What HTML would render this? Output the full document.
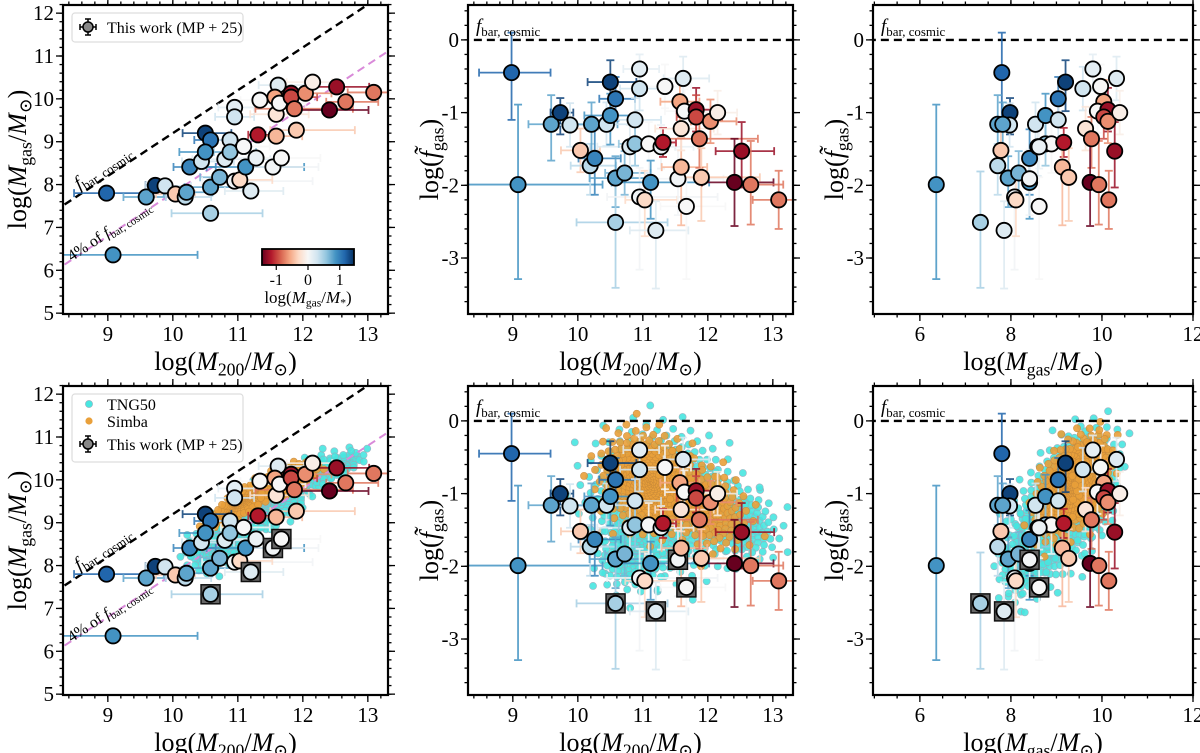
<!DOCTYPE html>
<html><head><meta charset="utf-8"><style>
html,body{margin:0;padding:0;background:#fff}
svg{display:block;font-family:"Liberation Serif","DejaVu Serif",serif}
</style></head><body>
<svg id="fig" width="1200" height="753" viewBox="0 0 1200 753" xmlns="http://www.w3.org/2000/svg"></svg>
<script>
// ---- observational data (This work, MP+25) ----
const m200 = [8.98,9.08,9.59,9.73,9.88,10.04,10.19,10.21,10.26,10.44,10.50,10.58,10.50,10.58,10.58,10.72,10.80,10.88,10.88,10.95,10.95,10.95,11.03,11.09,11.12,11.20,11.28,11.31,11.34,11.54,11.59,11.59,11.62,11.57,11.64,11.67,11.82,11.82,11.87,11.90,12.04,12.15,12.41,12.52,12.66,13.09];
const mgas = [7.80,6.36,7.71,7.98,7.97,7.78,7.71,7.82,8.41,8.54,9.20,9.04,8.76,7.94,7.33,8.17,8.59,9.04,8.76,9.80,9.58,8.08,8.11,8.89,8.41,7.85,8.62,9.16,9.97,8.41,9.13,9.64,10.32,10.04,9.90,8.62,10.13,10.04,9.77,9.27,10.13,10.39,9.74,10.28,9.93,10.15];
const fgas = [-0.45,-1.99,-1.16,-1.00,-1.17,-1.52,-1.73,-1.16,-1.63,-1.16,-0.58,-0.81,-1.04,-1.90,-2.51,-1.83,-1.47,-1.10,-1.43,-0.40,-0.67,-2.16,-2.20,-1.43,-1.96,-2.62,-1.47,-1.41,-0.64,-1.91,-1.75,-1.22,-0.53,-0.85,-0.98,-2.29,-0.96,-1.06,-1.36,-1.89,-1.12,-1.00,-1.96,-1.53,-1.99,-2.20];
const ratio = [1.2,0.9,0.8,1.4,0.3,-0.4,0.4,0.8,1.0,0.3,1.4,1.1,0.9,0.8,0.5,0.7,0.2,0.3,0.6,0.15,0.3,0.05,-0.3,0.0,0.9,0.2,0.1,-1.2,0.0,0.05,-0.5,-0.2,0.2,-0.6,0.0,0.0,-1.3,-1.0,-0.8,-0.4,-0.7,-0.1,-1.5,-1.3,-0.8,-0.8];
const xErrLo = [0.5,0.8,0.35,0.15,0.3,0.3,0.3,0.35,0.25,0.3,0.35,0.25,0.4,0.4,0.6,0.3,0.5,0.3,0.25,0.25,0.3,0.5,0.3,0.35,0.6,0.4,0.4,0.15,0.3,0.5,0.3,0.4,0.3,0.3,0.3,0.4,0.3,0.3,0.6,0.4,0.3,0.4,0.5,0.4,0.3,0.4];
const xErrHi = [0.6,1.3,0.3,0.2,0.4,0.3,0.4,0.4,0.4,0.5,0.4,0.3,0.4,0.5,0.8,0.4,0.7,0.4,0.4,0.3,0.3,1.2,0.5,0.4,0.9,0.5,0.5,0.2,0.4,0.7,0.4,0.5,0.4,0.3,0.4,0.6,0.3,0.4,0.9,0.9,0.4,0.3,0.6,0.5,0.5,0.4];
const fErrLo = [0.65,1.3,0.5,0.3,0.3,0.3,0.4,0.4,0.5,0.3,0.4,0.3,0.4,0.4,0.9,0.3,0.4,0.3,0.3,0.3,0.3,1.0,0.5,0.4,0.5,0.8,0.3,0.2,0.3,0.5,0.8,0.3,0.3,0.3,0.3,1.0,0.3,0.3,0.4,0.6,0.3,0.3,0.6,0.5,0.55,0.4];
const fErrHi = [0.55,1.1,0.4,0.2,0.3,0.3,0.3,0.3,0.4,0.3,0.3,0.3,0.3,0.3,0.7,0.3,0.3,0.3,0.3,0.2,0.3,0.4,0.4,0.3,0.3,0.4,0.3,0.2,0.3,0.4,0.4,0.3,0.3,0.3,0.3,0.4,0.3,0.3,0.3,0.4,0.3,0.3,0.6,0.4,0.6,0.4];
const boxed = [15,26,30,36];
// ---- simulation clouds (component centres/extents per panel) ----
const tngMhalo = {cx:[11.4,10.8,12.5], cy:[9.4,8.5,10.3], hx:[1.4,0.8,0.6], hy:[1.5,0.9,0.5], rho:[0.85,0.6,0.7], n:[600,160,120]};
const simbaMhalo = {cx:[11.2,11.8], cy:[9.6,10.0], hx:[0.9,0.6], hy:[0.95,0.5], rho:[0.9,0.7], n:[380,160]};
const tngFhalo = {cx:[11.3,10.9,12.5], cy:[-1.1,-1.8,-1.4], hx:[1.6,0.9,0.9], hy:[1.4,0.8,0.8], rho:[-0.1,0.2,-0.3], n:[600,160,140]};
const simbaFhalo = {cx:[11.1,12.0], cy:[-0.85,-1.2], hx:[1.1,1.0], hy:[1.0,0.9], rho:[-0.2,-0.3], n:[420,160]};
const tngFgas = {cx:[9.1,8.4,9.8], cy:[-1.2,-1.8,-1.0], hx:[1.6,0.9,0.8], hy:[1.5,0.9,0.9], rho:[0.55,0.4,0.3], n:[600,160,140]};
const simbaFgas = {cx:[9.3,9.8], cy:[-0.9,-0.8], hx:[1.1,0.6], hy:[1.0,0.8], rho:[0.5,0.3], n:[420,160]};
// tick labels
const massTicks = [9,10,11,12,13];
const gasTicksY = [5,6,7,8,9,10,11,12];
const fTicks = [0,-1,-2,-3];
const mgasTicksX = [6,8,10,12];
const cbarTicks = [-1,0,1];

const NS = "http://www.w3.org/2000/svg";
const svg = document.getElementById('fig');
function el(tag, attrs, parent){ const e=document.createElementNS(NS,tag); for(const k in attrs) e.setAttribute(k,attrs[k]); (parent||svg).appendChild(e); return e; }

const RdBu = ['#67001f','#b2182b','#d6604d','#f4a582','#fddbc7','#f7f7f7','#d1e5f0','#92c5de','#4393c3','#2166ac','#053061'];
function hex(h){return [parseInt(h.substr(1,2),16),parseInt(h.substr(3,2),16),parseInt(h.substr(5,2),16)];}
function cmap(v){ let t=(v+1.5)/3; t=Math.max(0,Math.min(1,t)); const p=t*10, i=Math.min(9,Math.floor(p)), f=p-i;
  const a=hex(RdBu[i]), b=hex(RdBu[i+1]); return 'rgb('+a.map((c,k)=>Math.round(c+(b[k]-c)*f)).join(',')+')'; }

function makeAxis(x0,y0,w,h,xd,yd){ return {x0,y0,w,h, sx:v=>x0+(v-xd[0])/(xd[1]-xd[0])*w, sy:v=>y0+h-(v-yd[0])/(yd[1]-yd[0])*h, xd, yd}; }
const rowY=[5,386], H=309;
const mxd=[8.31,13.31], gyd=[4.98,12.19], fyd=[-3.77,0.48], gxd=[4.97,12.0];

function clipFor(ax,id){ const cp=el('clipPath',{id}); el('rect',{x:ax.x0,y:ax.y0,width:ax.w,height:ax.h},cp); return 'url(#'+id+')'; }

function ticks(ax, xmaj, xmin, ymaj, ymin, xlabels, ylabels, name){
  const g=el('g',{});  
  const line=(x1,y1,x2,y2)=>el('line',{x1,y1,x2,y2,stroke:'#000','stroke-width':1.3},g);
  const bot=ax.y0+ax.h, rt=ax.x0+ax.w;
  xmin.forEach(v=>{const x=ax.sx(v); if(x<ax.x0-0.5||x>rt+0.5)return; line(x,bot,x,bot+3.5); line(x,ax.y0,x,ax.y0-3.5);});
  xmaj.forEach(v=>{const x=ax.sx(v); line(x,bot,x,bot+7); line(x,ax.y0,x,ax.y0-7);});
  ymin.forEach(v=>{const y=ax.sy(v); if(y<ax.y0-0.5||y>bot+0.5)return; line(ax.x0,y,ax.x0-3.5,y); line(rt,y,rt+3.5,y);});
  ymaj.forEach(v=>{const y=ax.sy(v); line(ax.x0,y,ax.x0-7,y); line(rt,y,rt+7,y);});
  xlabels.forEach(v=>{const t=el('text',{x:ax.sx(v),y:bot+27,'font-size':21,'text-anchor':'middle'},g); t.textContent=String(v);
     });
  ylabels.forEach(v=>{const t=el('text',{x:ax.x0-9,y:ax.sy(v)+7,'font-size':21,'text-anchor':'end'},g); t.textContent=String(v);
     });
}
function range(a,b,s){const r=[];for(let v=a;v<=b+1e-9;v+=s)r.push(Math.round(v*100)/100);return r;}

function richText(parent, x, y, parts, size, anchor, rot){
  const t=el('text',{x,y,'font-size':size,'text-anchor':anchor||'middle'},parent);
  if(rot) t.setAttribute('transform','rotate('+rot+' '+x+' '+y+')');
  parts.forEach(p=>{const s=el('tspan',{},t); s.textContent=p[0];
    if(p[1]==='i') s.setAttribute('font-style','italic');
    if(p[1]==='sub'){ s.setAttribute('font-size',size*0.68); s.setAttribute('dy',size*0.22);}
    if(p[1]==='up'){ s.setAttribute('dy',-size*0.22);} });
  return t;
}
const lblM200=[['log('],['M','i'],['200','sub'],['/','up'],['M','i'],['⊙','sub'],[')','up']];
const lblMgas=[['log('],['M','i'],['gas','sub'],['/','up'],['M','i'],['⊙','sub'],[')','up']];
const lblF=[['log('],['f̃','i'],['gas','sub'],[')','up']];

function cloud(ax, comp, color, edge, clip, name){
  const g=el('g',{'clip-path':clip});  
  const GA=Math.PI*(3-Math.sqrt(5)), norm=Math.sqrt(-2*Math.log(0.01));
  comp.cx.forEach((cx,k)=>{ const n=comp.n[k];
    for(let i=0;i<n;i++){ const tt=(i+0.5)/n; const r=Math.sqrt(-2*Math.log(1-tt*0.99))/norm, a=i*GA; const u=r*Math.cos(a), v=r*Math.sin(a);
      const x=cx+comp.hx[k]*u, y=comp.cy[k]+comp.hy[k]*(comp.rho[k]*u+Math.sqrt(1-comp.rho[k]*comp.rho[k])*v);
      const c=el('circle',{cx:ax.sx(x),cy:ax.sy(y),r:3.6,fill:color,stroke:edge,'stroke-width':0.6,opacity:0.9},g);
        } });
}

function obs(ax, xs, ys, opts, clip, name){
  const g=el('g',{'clip-path':clip});  
  xs.forEach((xv,i)=>{ const col=cmap(ratio[i]); const x=ax.sx(xv), y=ax.sy(ys[i]);
    const eg=el('g',{stroke:col,'stroke-width':1.8,opacity:0.85},g);
     
    if(opts.xerr){ const a=ax.sx(xv-xErrLo[i]), b=ax.sx(xv+xErrHi[i]);
      el('line',{x1:a,y1:y,x2:b,y2:y},eg); el('line',{x1:a,y1:y-4,x2:a,y2:y+4},eg); el('line',{x1:b,y1:y-4,x2:b,y2:y+4},eg);}
    if(opts.yerr){ const a=ax.sy(ys[i]+fErrHi[i]), b=ax.sy(ys[i]-fErrLo[i]);
      el('line',{x1:x,y1:a,x2:x,y2:b},eg); el('line',{x1:x-4,y1:a,x2:x+4,y2:a},eg); el('line',{x1:x-4,y1:b,x2:x+4,y2:b},eg);}
  });
  xs.forEach((xv,i)=>{ const x=ax.sx(xv), y=ax.sy(ys[i]);
    if(opts.boxes && boxed.indexOf(i+1)>=0){ const b=el('rect',{x:x-9.5,y:y-9.5,width:19,height:19,fill:'#666',stroke:'#111','stroke-width':1.5},g);
        }
    const c=el('circle',{cx:x,cy:y,r:7.6,fill:cmap(ratio[i]),stroke:'#000','stroke-width':1.8},g);
      });
}

function frame(ax,name){ const r=el('rect',{x:ax.x0,y:ax.y0,width:ax.w,height:ax.h,fill:'none',stroke:'#000','stroke-width':2.2});
    }

function dashed(ax, x1,y1,x2,y2,color,clip,name,w){ const l=el('line',{x1:ax.sx(x1),y1:ax.sy(y1),x2:ax.sx(x2),y2:ax.sy(y2),stroke:color,'stroke-width':w||2.4,'stroke-dasharray':'8,5','clip-path':clip});
    }

function legendObs(gx, gy, g){ const lg=el('g',{},g);
   
  el('line',{x1:gx-8,y1:gy,x2:gx+8,y2:gy,stroke:'#000','stroke-width':1.5},lg);
  el('line',{x1:gx,y1:gy-8,x2:gx,y2:gy+8,stroke:'#000','stroke-width':1.5},lg);
  el('line',{x1:gx-8,y1:gy-3,x2:gx-8,y2:gy+3,stroke:'#000','stroke-width':1.5},lg);
  el('line',{x1:gx+8,y1:gy-3,x2:gx+8,y2:gy+3,stroke:'#000','stroke-width':1.5},lg);
  el('line',{x1:gx-3,y1:gy-8,x2:gx+3,y2:gy-8,stroke:'#000','stroke-width':1.5},lg);
  el('line',{x1:gx-3,y1:gy+8,x2:gx+3,y2:gy+8,stroke:'#000','stroke-width':1.5},lg);
  el('circle',{cx:gx,cy:gy,r:5,fill:'#888',stroke:'#000','stroke-width':1.5},lg);
  const t=el('text',{x:gx+19,y:gy+6,'font-size':16},lg); t.textContent='This work (MP + 25)';
}

for(let row=0;row<2;row++){
  const y0=rowY[row], sim=row===1;
  // ---- panel A: Mgas vs M200 ----
  const A=makeAxis(63,y0,325,H,mxd,gyd); const cA=clipFor(A,'clipA'+row);
  if(sim){ cloud(A,tngMhalo,'#48e6e0','#9ab',cA,'tng50-cloud'); cloud(A,simbaMhalo,'#e9a03a','#c98a3a',cA,'simba-cloud'); }
  dashed(A,8.0,7.2,13.5,12.7,'#000',cA,'fbar-cosmic-line');
  dashed(A,8.0,5.8,13.5,11.3,'#d98ad9',cA,'four-percent-line',2);
  obs(A,m200,mgas,{xerr:true,boxes:sim},cA,'observed-galaxies');
  const rot=-33.4;
  let t=richText(svg,106,y0+167,[['f','i'],['bar, cosmic','sub']],19,'middle',rot);  
  t=richText(svg,112,y0+230,[['4% of '],['f','i'],['bar, cosmic','sub']],16,'middle',rot);  
  frame(A,'left');
  ticks(A,massTicks,range(8.4,13.2,0.2),gasTicksY,range(5,12.2,0.2),massTicks,gasTicksY,'left');
  t=richText(svg,A.x0+A.w/2,y0+H+56,lblM200,26);  
  t=richText(svg,26,y0+H/2,lblMgas,26,'middle',-90);  
  // legend
  const lg=el('g',{});  
  if(!sim){ el('rect',{x:72,y:13,width:171,height:29,rx:3,fill:'#fff',stroke:'#ddd','stroke-width':1.2},lg); legendObs(88,27,lg); }
  else { el('rect',{x:72,y:y0+8,width:171,height:68,rx:3,fill:'#fff',stroke:'#ddd','stroke-width':1.2},lg);
    const e1=el('g',{},lg);  
    el('circle',{cx:89,cy:y0+18,r:3.6,fill:'#48e6e0',stroke:'#9ab','stroke-width':0.6},e1);
    let tt=el('text',{x:107,y:y0+24,'font-size':16},e1); tt.textContent='TNG50';
    const e2=el('g',{},lg);  
    el('circle',{cx:89,cy:y0+35,r:3.6,fill:'#e9a03a'},e2);
    tt=el('text',{x:107,y:y0+41,'font-size':16},e2); tt.textContent='Simba';
    legendObs(88,y0+58,lg); }
  if(!sim){ // colorbar
    const cb=el('g',{});  
    const defs=el('defs',{},cb); const lgd=el('linearGradient',{id:'cbg',x1:0,x2:1,y1:0,y2:0},defs);
    RdBu.forEach((c,i)=>el('stop',{offset:(i/10),'stop-color':c},lgd));
    el('rect',{x:262,y:249,width:92,height:16,fill:'url(#cbg)',stroke:'#000','stroke-width':1.8},cb);
    cbarTicks.forEach(v=>{const x=262+(v+1.45)/2.9*92; el('line',{x1:x,y1:265,x2:x,y2:270,stroke:'#000','stroke-width':1.2},cb);
      const tx=el('text',{x:x,y:285,'font-size':16,'text-anchor':'middle'},cb); tx.textContent=String(v);});
    richText(cb,308,303,[['log('],['M','i'],['gas','sub'],['/','up'],['M','i'],['*','sub'],[')','up']],17);
  }
  // ---- panel B: fgas vs M200 ----
  const B=makeAxis(468,y0,325,H,mxd,fyd); const cB=clipFor(B,'clipB'+row);
  if(sim){ cloud(B,tngFhalo,'#48e6e0','#9ab',cB,'tng50-cloud'); cloud(B,simbaFhalo,'#e9a03a','#c98a3a',cB,'simba-cloud'); }
  dashed(B,8,0,14,0,'#000',cB,'fbar-cosmic-line');
  obs(B,m200,fgas,{xerr:true,yerr:true,boxes:sim},cB,'observed-galaxies');
  t=richText(svg,476,y0+27,[['f','i'],['bar, cosmic','sub']],19,'start');  
  frame(B,'middle');
  ticks(B,massTicks,range(8.4,13.2,0.2),fTicks,range(-3.6,0.4,0.2),massTicks,fTicks,'middle');
  t=richText(svg,B.x0+B.w/2,y0+H+56,lblM200,26);  
  t=richText(svg,438,y0+H/2,lblF,26,'middle',-90);  
  // ---- panel C: fgas vs Mgas ----
  const C=makeAxis(873,y0,320,H,gxd,fyd); const cC=clipFor(C,'clipC'+row);
  if(sim){ cloud(C,tngFgas,'#48e6e0','#9ab',cC,'tng50-cloud'); cloud(C,simbaFgas,'#e9a03a','#c98a3a',cC,'simba-cloud'); }
  dashed(C,4,0,13,0,'#000',cC,'fbar-cosmic-line');
  obs(C,mgas,fgas,{yerr:true,boxes:sim},cC,'observed-galaxies');
  t=richText(svg,881,y0+27,[['f','i'],['bar, cosmic','sub']],19,'start');  
  frame(C,'right');
  ticks(C,mgasTicksX,range(5,12,0.5),fTicks,range(-3.6,0.4,0.2),mgasTicksX,fTicks,'right');
  t=richText(svg,C.x0+C.w/2,y0+H+56,lblMgas,26);  
  t=richText(svg,843,y0+H/2,lblF,26,'middle',-90);  
}
</script>
</body></html>
